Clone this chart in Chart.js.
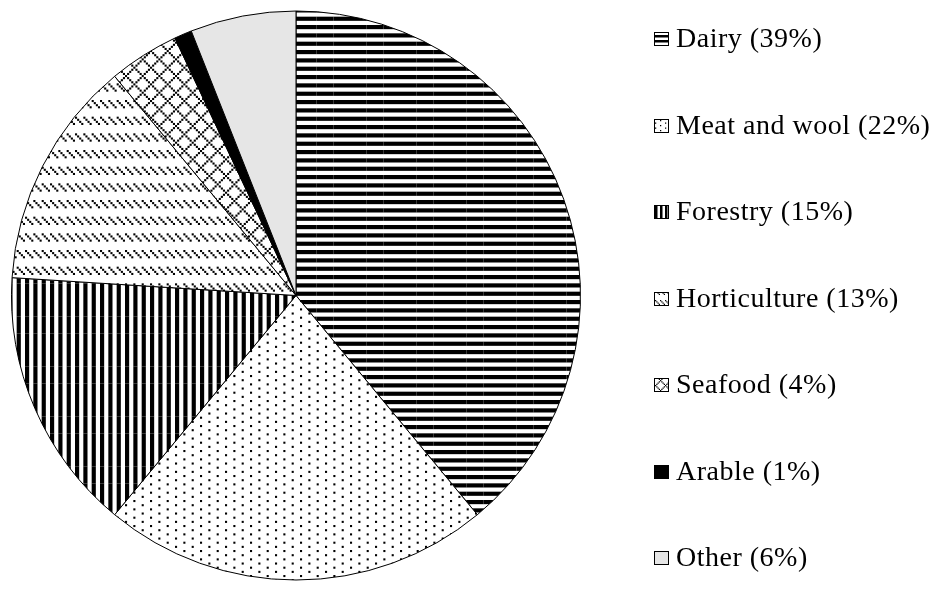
<!DOCTYPE html>
<html lang="en">
<head>
<meta charset="UTF-8" />
<title>Primary sector export share</title>
<script src="https://cdn.jsdelivr.net/npm/chart.js@4"></script>
<style>
  html, body { margin: 0; padding: 0; background: #fff; }
</style>
</head>
<body>
<canvas id="myChart" width="934" height="597"></canvas>
<script>
// slices, clockwise from 12 o'clock
const labels = ['Dairy', 'Meat and wool', 'Forestry', 'Horticulture', 'Seafood', 'Arable', 'Other'];
const shares = [39, 22, 15, 13, 4, 1, 6];
// excel-style pattern fills, one per slice
const fillKinds = ['dkHorz', 'pct10', 'dkVert', 'dashDnDiag', 'openDmnd', 'solid', 'gray'];

// cells of an 8x8 pattern tile
function tileCells(kind) {
  const out = [];
  for (let y = 0; y < 8; y++) {
    for (let x = 0; x < 8; x++) {
      let on = false;
      if (kind === 'pct10') on = (x === 0 && (y === 0 || y === 4)) || (x === 4 && (y === 2 || y === 6));
      if (kind === 'dashDnDiag') on = y < 4 && (x % 4) === y;
      if (kind === 'openDmnd') on = (x + y) % 8 === 0 || (x - y + 8) % 8 === 0;
      if (on) out.push([x, y]);
    }
  }
  return out;
}

function makeFill(kind, unit, reps) {
  if (kind === 'solid') return '#000000';
  if (kind === 'gray') return '#e6e6e6';
  const size = Math.round(8 * unit * reps);
  const cv = document.createElement('canvas');
  cv.width = size; cv.height = size;
  const g = cv.getContext('2d');
  g.fillStyle = '#fff';
  g.fillRect(0, 0, size, size);
  g.fillStyle = '#000';
  for (let ry = 0; ry < reps; ry++) {
    for (let rx = 0; rx < reps; rx++) {
      const ox = rx * 8 * unit, oy = ry * 8 * unit;
      if (kind === 'dkHorz') {
        g.fillRect(ox, oy, 8 * unit, 2 * unit);
        g.fillRect(ox, oy + 4 * unit, 8 * unit, 2 * unit);
      } else if (kind === 'dkVert') {
        g.fillRect(ox, oy, 2 * unit, 8 * unit);
        g.fillRect(ox + 4 * unit, oy, 2 * unit, 8 * unit);
      } else {
        tileCells(kind).forEach(([x, y]) => g.fillRect(ox + x * unit, oy + y * unit, unit, unit));
      }
    }
  }
  return g.createPattern(cv, 'repeat');
}

const pieFills = fillKinds.map(k => makeFill(k, 50 / 24, 3));
const legendFills = fillKinds.map(k => makeFill(k, 1.25, 1));

const sideLegend = {
  id: 'sideLegend',
  afterDraw(chart) {
    const c = chart.ctx;
    const vals = chart.data.datasets[0].data;
    c.save();
    c.font = '28px "Liberation Serif", "Times New Roman", serif';
    c.letterSpacing = '0.5px';
    c.textBaseline = 'alphabetic';
    chart.data.labels.forEach((lab, i) => {
      const base = Math.round(47 + i * 86.5);
      c.fillStyle = legendFills[i];
      c.fillRect(654, base - 15, 15, 14);
      c.strokeStyle = '#000';
      c.lineWidth = 1;
      c.strokeRect(654.5, base - 14.5, 14, 13);
      c.fillStyle = '#000';
      c.fillText(lab + ' (' + vals[i] + '%)', 676, base);
    });
    c.restore();
  }
};

const ctx = document.getElementById('myChart').getContext('2d');
new Chart(ctx, {
  type: 'pie',
  data: {
    labels: labels,
    datasets: [{
      data: shares,
      backgroundColor: pieFills,
      borderColor: '#000',
      borderWidth: 1
    }]
  },
  options: {
    responsive: false,
    animation: false,
    layout: { padding: { left: 11, top: 10, right: 353, bottom: 16 } },
    plugins: {
      legend: { display: false },
      tooltip: { enabled: false }
    }
  },
  plugins: [sideLegend]
});
</script>
</body>
</html>
